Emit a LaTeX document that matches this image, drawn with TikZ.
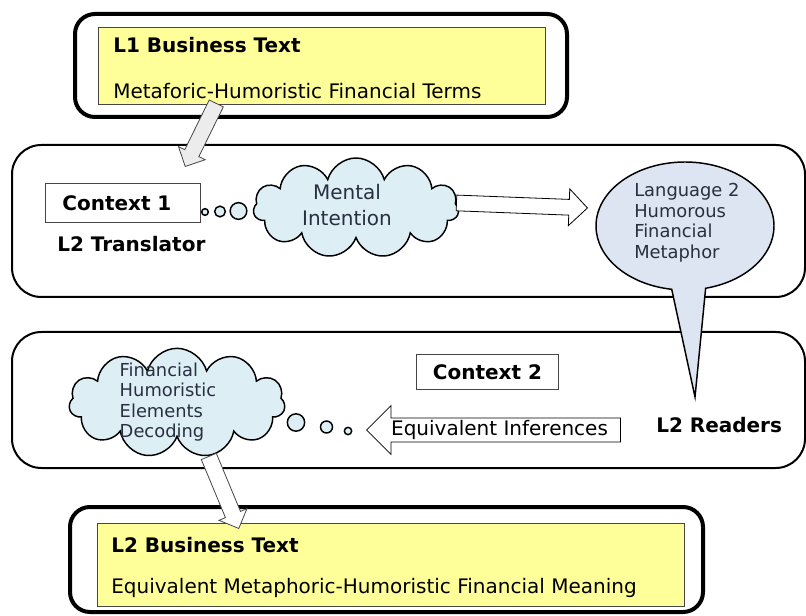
\documentclass[tikz,border=0pt]{standalone}
\usepackage{fontspec}
\setmainfont{DejaVu Sans}
\usepackage{xcolor}
\usetikzlibrary{shapes.symbols,shapes.arrows,shapes.callouts}

\definecolor{notefill}{RGB}{255,255,153}
\definecolor{cloudfill}{RGB}{221,238,245}
\definecolor{bubblefill}{RGB}{221,229,242}
\definecolor{arrowgray}{RGB}{236,236,236}
\definecolor{inktext}{RGB}{40,48,64}
\definecolor{edgegray}{RGB}{70,70,70}

\tikzset{
  framebox/.style={draw=black, line width=3pt, rounded corners=15pt},
  panel/.style={draw=black, line width=1.5pt, rounded corners=22pt},
  notebox/.style={draw=edgegray, fill=notefill, line width=0.6pt, anchor=north west},
  ctxbox/.style={draw=edgegray, line width=0.6pt, font=\bfseries\fontsize{15}{17}\selectfont},
  headtext/.style={font=\bfseries\fontsize{15}{17}\selectfont, inner sep=0pt, anchor=west},
  bodytext/.style={font=\fontsize{15}{17}\selectfont, inner sep=0pt, anchor=west},
  thinktext/.style={font=\fontsize{13.4}{15.4}\selectfont, text=inktext, inner sep=0pt, align=left},
  thought/.style={cloud, cloud puffs=11, cloud ignores aspect, draw=black, fill=cloudfill, line width=1.1pt},
  dot/.style={circle, draw=black, fill=cloudfill, line width=1.1pt, inner sep=0pt},
  blockarrow/.style={single arrow, draw=edgegray, line width=0.6pt, single arrow head indent=0pt,
    inner xsep=0pt, anchor=tip},
}

\begin{document}
\begin{tikzpicture}[x=0.75pt,y=0.75pt,yscale=-1,xscale=1]
\useasboundingbox (0,0) rectangle (806,616);

%Rounded Rect [frames round the business texts]
\draw [framebox] (75,14) rectangle (567,117) ;
\draw [framebox] (70,507) rectangle (703,612) ;
%Rounded Rect [context panels]
\draw [panel] (12,145) rectangle (805,297) ;
\draw [panel] (12,332) rectangle (805,468) ;

%Yellow boxes
\node [notebox, minimum width=335pt, minimum height=58pt] (l1box) at (98,27) {};
\node [notebox, minimum width=440pt, minimum height=62pt] (l2box) at (97,523) {};

% Text Node
\node [headtext] (l1head) at (113,45) {L1 Business Text};
% Text Node
\node [bodytext] (l1body) at (113,91) {Metaforic-Humoristic Financial Terms};
% Text Node
\node [headtext] (l2head) at (111,545) {L2 Business Text};
% Text Node
\node [bodytext] (l2body) at (111,588) {Equivalent Metaphoric-Humoristic Financial Meaning};

%Context 1
\node [ctxbox, anchor=north west, minimum height=29.25pt, text width=90.75pt, inner xsep=12.75pt, align=left] (ctxone) at (45,183) {Context 1};
\node [headtext] (translator) at (57,244) {L2 Translator};
\node [dot, minimum size=5pt] (dota) at (205,212) {};
\node [dot, minimum size=8pt] (dotb) at (220,211.5) {};
\node [dot, minimum size=12.5pt] (dotc) at (238.5,211) {};
\node [thought, minimum width=154pt, minimum height=75pt] (mental) at (356,208) {};
\node [thinktext, align=center, font=\fontsize{15}{19.5}\selectfont] (mentaltext) at (347,205) {Mental\\Intention};

%Speech bubble of the readers
\coordinate (readtip) at (695,397);
\node [ellipse callout, callout absolute pointer={(readtip)}, callout pointer arc=22, draw=black, fill=bubblefill,
  line width=1.1pt, minimum width=133.5pt, minimum height=96pt] (bubble) at (685,226) {};
\node [thinktext, anchor=north west] (bubbletext) at (634,183) {Language 2\\Humorous\\Financial\\Metaphor};

%Context 2
\node [ctxbox, anchor=north west, minimum width=106.5pt, minimum height=26.25pt] (ctxtwo) at (416,354) {Context 2};
\node [headtext] (readers) at (656,425) {L2 Readers};
\node [thought, minimum width=162pt, minimum height=82pt] (decode) at (177,403) {};
\node [thinktext] (decodetext) at (168,402) {Financial\\Humoristic\\Elements\\Decoding};
\node [dot, minimum size=13pt] (dotd) at (296,422.5) {};
\node [dot, minimum size=9pt] (dote) at (326.5,427) {};
\node [dot, minimum size=5.5pt] (dotf) at (348,431) {};

%Block arrows
\coordinate (l1out) at (216,104);
\coordinate (ctxonein) at (185,167);
\path (l1out) -- node [pos=1, blockarrow, rotate=-116.2, fill=arrowgray, inner ysep=5.6pt, single arrow head extend=5.25pt, minimum height=52.7pt] (downone) {} (ctxonein);
\coordinate (mentalout) at (457,203);
\coordinate (bubblein) at (588,208);
\path (mentalout) -- node [pos=1, blockarrow, rotate=-2.2, draw=black, fill=white, inner ysep=5.6pt, single arrow head extend=7.9pt, minimum height=98.3pt] (toreaders) {} (bubblein);
\coordinate (infertip) at (366,430);
\coordinate (infertail) at (620,430);
\path (infertail) -- node [pos=1, blockarrow, draw=black, fill=white, shape border rotate=180, text height=11pt, text depth=3.5pt,
  inner ysep=1.4pt, inner xsep=2pt, single arrow head extend=9.4pt, minimum height=190.5pt,
  font=\fontsize{15}{17}\selectfont] (infer) {Equivalent Inferences} (infertip);
\coordinate (decodeout) at (209,457);
\coordinate (l2in) at (239,529);
\path (decodeout) -- node [pos=1, blockarrow, rotate=-67.4, fill=white, inner ysep=5.8pt, single arrow head extend=5.25pt, minimum height=58.5pt] (downtwo) {} (l2in);

\end{tikzpicture}
\end{document}
